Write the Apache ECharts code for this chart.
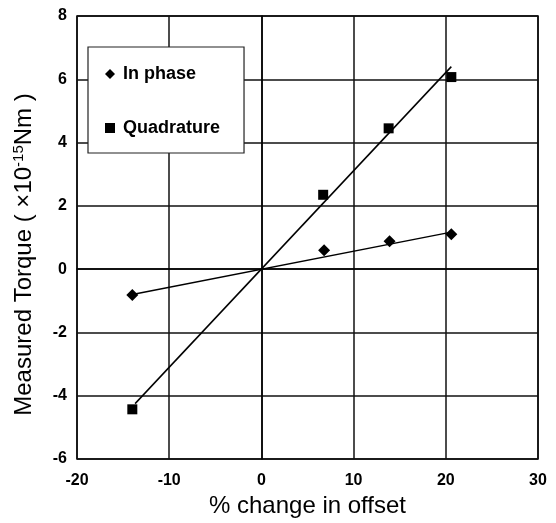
<!DOCTYPE html>
<html>
<head>
<meta charset="utf-8">
<script src="https://cdn.jsdelivr.net/npm/echarts@6/dist/echarts.min.js"></script>
<style>
  html, body { margin: 0; padding: 0; background: #fff; }
  #chart { width: 556px; height: 523px; }
</style>
</head>
<body>
<div id="chart"></div>
<script>
// measured points (% change in offset, torque x1e-15 Nm)
var inPhaseX = [-14, 6.8, 13.9, 20.6];
var inPhaseY = [-0.82, 0.6, 0.88, 1.1];
var quadX = [-14, 6.7, 13.8, 20.6];
var quadY = [-4.43, 2.35, 4.45, 6.07];

// straight line fits through the origin
var inPhaseFitX = [-14, 20.6];
var inPhaseFitY = [-0.8, 1.17];
var quadFitX = [-13.7, 20.6];
var quadFitY = [-4.25, 6.4];

function pairs(xs, ys) {
  var out = [];
  for (var i = 0; i < xs.length; i++) out.push([xs[i], ys[i]]);
  return out;
}

var chart = echarts.init(document.getElementById('chart'));

var option = {
  animation: false,
  backgroundColor: '#fff',
  textStyle: { fontFamily: 'Liberation Sans, Arial, sans-serif' },
  grid: {
    left: 77, right: 18, top: 16, bottom: 60,
    show: true, borderColor: '#000', borderWidth: 1.5
  },
  legend: {
    orient: 'vertical',
    left: 88, top: 47,
    data: ['In phase', 'Quadrature'],
    backgroundColor: '#fff',
    borderColor: '#222', borderWidth: 1.2,
    padding: [17, 24, 15, 17],
    itemGap: 34,
    itemWidth: 10, itemHeight: 10,
    textStyle: { fontSize: 18, lineHeight: 20, fontWeight: 'bold', color: '#000', padding: [0, 0, 0, 3] }
  },
  xAxis: {
    type: 'value',
    min: -20, max: 30, interval: 10,
    name: '% change in offset',
    nameLocation: 'middle',
    nameGap: 35,
    nameTextStyle: { fontSize: 24, color: '#000' },
    axisLine: { show: true, lineStyle: { color: '#000', width: 1.5 } },
    axisTick: { show: false },
    axisLabel: { fontSize: 16, fontWeight: 'bold', color: '#000', margin: 14 },
    splitLine: { show: true, lineStyle: { color: '#111', width: 1.5 } }
  },
  yAxis: {
    type: 'value',
    min: -6, max: 8, interval: 2,
    name: '{n|Measured Torque ( ×10}{s|-15}{n|Nm )}',
    nameLocation: 'middle',
    nameRotate: 90,
    nameGap: 39,
    nameTextStyle: {
      color: '#000',
      padding: [0, 34, 0, 0],
      rich: {
        n: { fontSize: 24, lineHeight: 27, color: '#000' },
        s: { fontSize: 15, lineHeight: 27, verticalAlign: 'top', color: '#000' }
      }
    },
    axisLine: { show: true, lineStyle: { color: '#000', width: 1.5 } },
    axisTick: { show: false },
    axisLabel: { fontSize: 16, fontWeight: 'bold', color: '#000', margin: 10 },
    splitLine: { show: true, lineStyle: { color: '#111', width: 1.5 } }
  },
  series: [
    {
      name: 'In phase fit', type: 'line',
      data: pairs(inPhaseFitX, inPhaseFitY),
      symbol: 'none', lineStyle: { color: '#000', width: 1.5 }, z: 3
    },
    {
      name: 'Quadrature fit', type: 'line',
      data: pairs(quadFitX, quadFitY),
      symbol: 'none', lineStyle: { color: '#000', width: 1.5 }, z: 3
    },
    {
      name: 'In phase', type: 'scatter',
      data: pairs(inPhaseX, inPhaseY),
      symbol: 'diamond', symbolSize: 12,
      itemStyle: { color: '#000', opacity: 1 }, z: 4
    },
    {
      name: 'Quadrature', type: 'scatter',
      data: pairs(quadX, quadY),
      symbol: 'rect', symbolSize: 10,
      itemStyle: { color: '#000', opacity: 1 }, z: 4
    }
  ]
};

chart.setOption(option);
window.onresize = chart.resize;
</script>
</body>
</html>
